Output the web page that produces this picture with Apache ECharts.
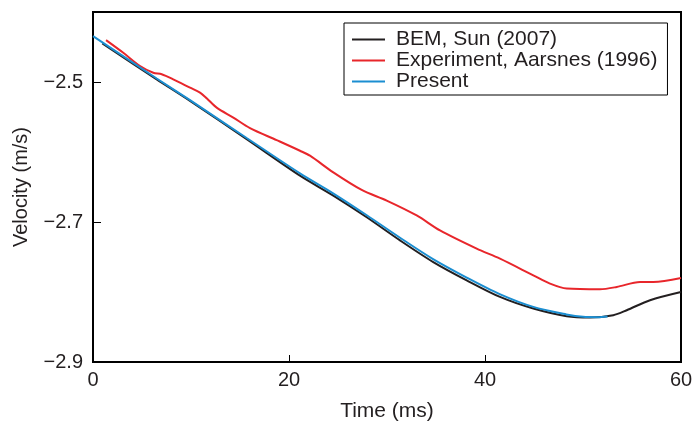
<!DOCTYPE html>
<html><head><meta charset="utf-8">
<script src="https://cdn.jsdelivr.net/npm/echarts@6/dist/echarts.min.js"></script>
<style>html,body{margin:0;padding:0;background:#fff}#c{width:695px;height:421px}</style>
</head><body><div id="c"></div>
<script>
const seriesNames = ['BEM, Sun (2007)', 'Experiment, Aarsnes (1996)', 'Present'];
const bemX = [0.95, 6.5, 9.9, 15.68, 21.12, 24.52, 27.93, 31.33, 34.72, 38.13, 41.53, 44.93, 48.34, 50.71, 53.09, 54.46, 56.84, 60];
const bemY = [-2.4449, -2.4962, -2.527, -2.5816, -2.6338, -2.6623, -2.6932, -2.7263, -2.7572, -2.7833, -2.807, -2.8236, -2.8345, -2.8364, -2.8331, -2.826, -2.8117, -2.800];
const expX = [1.33, 3.09, 4.80, 6.15, 7.01, 8.19, 9.90, 10.92, 11.60, 12.62, 14.32, 16.02, 18.74, 21.12, 22.14, 24.52, 27.42, 29.97, 33.03, 35.41, 39.15, 41.53, 44.93, 46.63, 48.34, 51.73, 53.44, 55.82, 57.17, 60];
const expY = [-2.4402, -2.4583, -2.4772, -2.4868, -2.489, -2.4962, -2.5081, -2.5152, -2.5232, -2.5366, -2.5508, -2.5659, -2.583, -2.5982, -2.6053, -2.6291, -2.6542, -2.6694, -2.6907, -2.7121, -2.7381, -2.7524, -2.7762, -2.788, -2.7951, -2.7961, -2.7928, -2.7857, -2.7857, -2.780];
const presX = [0, 6.5, 9.9, 15.68, 21.12, 24.5, 27.9, 31.33, 34.7, 38.13, 41.5, 44.93, 48.3, 50.0, 51.5, 52.5];
const presY = [-2.4345, -2.495, -2.526, -2.580, -2.6305, -2.659, -2.690, -2.7225, -2.753, -2.7794, -2.803, -2.8213, -2.832, -2.8355, -2.836, -2.835];
const xTicks = [0, 20, 40, 60];
const yTicks = [-2.9, -2.7, -2.5];
const colors = ['#231f20', '#e8262b', '#1b8ed1'];

const zip = (xs, ys) => xs.map((x, i) => [x, ys[i]]);
const font = 'Liberation Sans, Arial, Helvetica, sans-serif';
const fmt = v => String(v).replace('-', '\u2212');
const chart = echarts.init(document.getElementById('c'));
chart.setOption({
  animation: false,
  grid: { left: 93, right: 14, top: 12, bottom: 59, show: true, borderColor: '#000', borderWidth: 2, outerBoundsMode: 'none', containLabel: false },
  legend: {
    data: seriesNames, orient: 'vertical', left: 344, top: 23,
    icon: 'rect', itemWidth: 33, itemHeight: 2, itemGap: 0,
    padding: [6, 10, 3, 8],
    borderColor: '#000', borderWidth: 1, backgroundColor: '#fff',
    textStyle: { fontFamily: font, fontSize: 21, color: '#231f20', lineHeight: 21, padding: [0, 0, 0, 6] }
  },
  xAxis: {
    type: 'value', min: 0, max: 60, interval: 20,
    name: 'Time (ms)', nameLocation: 'middle', nameGap: 39,
    nameTextStyle: { fontFamily: font, fontSize: 21, color: '#231f20' },
    axisLine: { lineStyle: { color: '#000', width: 2 } },
    axisTick: { inside: true, length: 7, lineStyle: { color: '#000', width: 1 }, customValues: xTicks },
    axisLabel: { fontFamily: font, fontSize: 20, color: '#231f20', margin: 8, customValues: xTicks },
    splitLine: { show: false }
  },
  yAxis: {
    type: 'value', min: -2.9, max: -2.4,
    name: 'Velocity (m/s)', nameLocation: 'middle', nameGap: 62,
    nameTextStyle: { fontFamily: font, fontSize: 20, color: '#231f20' },
    axisLine: { show: true, lineStyle: { color: '#000', width: 2 } },
    axisTick: { inside: true, length: 8, lineStyle: { color: '#000', width: 1 }, customValues: yTicks },
    axisLabel: { fontFamily: font, fontSize: 20, color: '#231f20', margin: 10, formatter: fmt, customValues: yTicks },
    splitLine: { show: false }
  },
  series: [
    { name: seriesNames[0], type: 'line', data: zip(bemX, bemY), symbol: 'none', smooth: 0.3, color: colors[0], lineStyle: { width: 2, color: colors[0] }, z: 2 },
    { name: seriesNames[1], type: 'line', data: zip(expX, expY), symbol: 'none', smooth: 0.3, color: colors[1], lineStyle: { width: 2, color: colors[1] }, z: 3 },
    { name: seriesNames[2], type: 'line', data: zip(presX, presY), symbol: 'none', smooth: 0.3, color: colors[2], lineStyle: { width: 2, color: colors[2] }, z: 3 }
  ]
});
</script></body></html>
